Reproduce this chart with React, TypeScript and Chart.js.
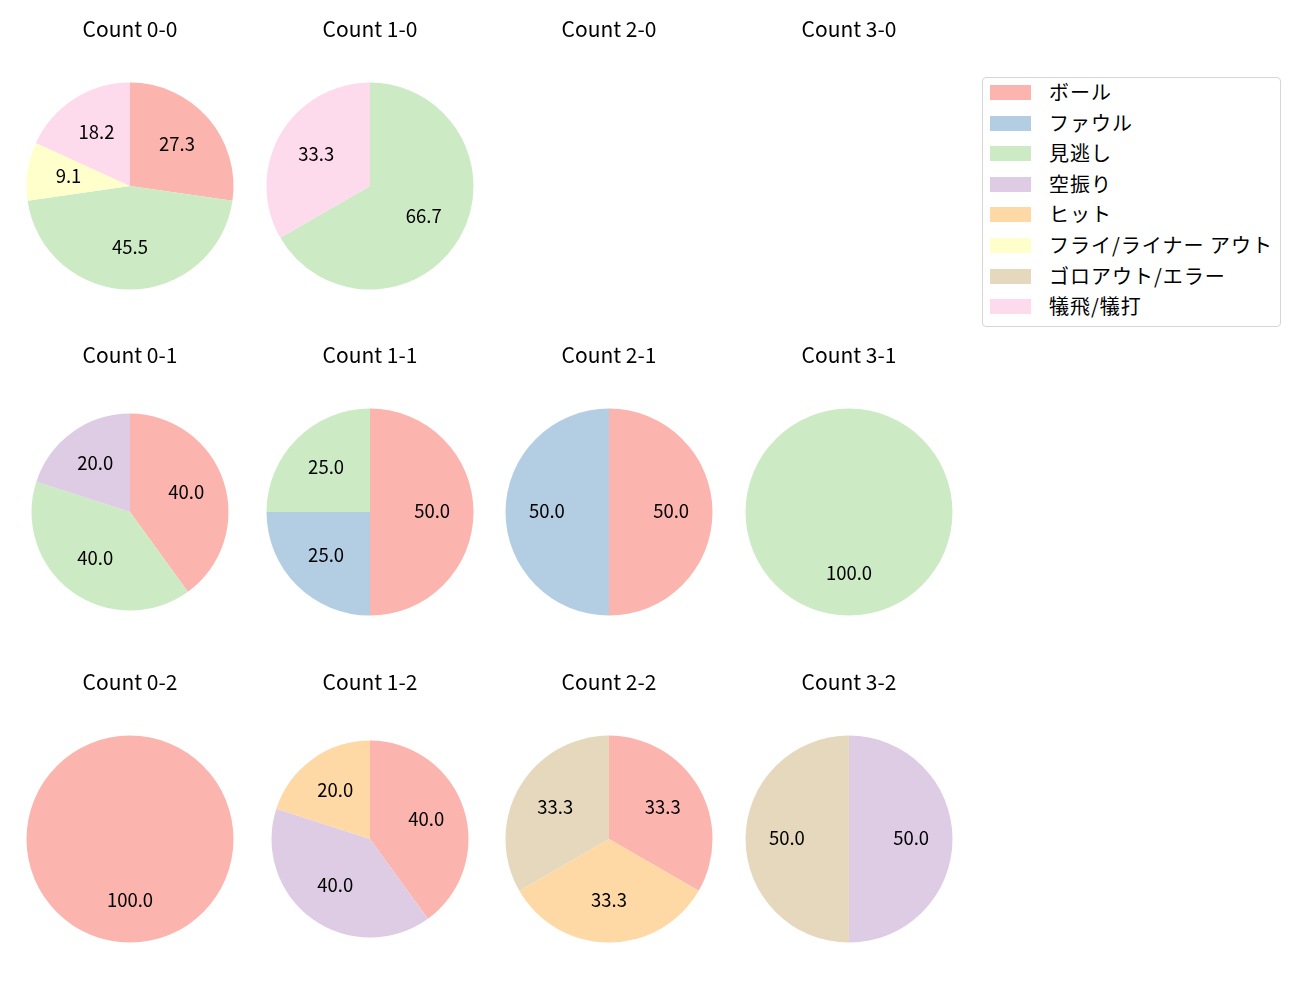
import React, { useEffect, useRef } from "react";
import { Chart, registerables } from "chart.js";

Chart.register(...registerables);

const FONT = "'Noto Sans CJK JP', 'Noto Sans', sans-serif";

const categories = [
  "ボール",
  "ファウル",
  "見逃し",
  "空振り",
  "ヒット",
  "フライ/ライナー アウト",
  "ゴロアウト/エラー",
  "犠飛/犠打",
];
const colors = ["#fbb4ae", "#b3cde3", "#ccebc5", "#decbe4", "#fed9a6", "#ffffcc", "#e5d8bd", "#fddaec"];

// counts per category (same order as categories)
const count00 = [3, 0, 5, 0, 0, 1, 0, 2];
const count10 = [0, 0, 2, 0, 0, 0, 0, 1];
const count20 = [0, 0, 0, 0, 0, 0, 0, 0];
const count30 = [0, 0, 0, 0, 0, 0, 0, 0];
const count01 = [2, 0, 2, 1, 0, 0, 0, 0];
const count11 = [2, 1, 1, 0, 0, 0, 0, 0];
const count21 = [1, 1, 0, 0, 0, 0, 0, 0];
const count31 = [0, 0, 1, 0, 0, 0, 0, 0];
const count02 = [1, 0, 0, 0, 0, 0, 0, 0];
const count12 = [2, 0, 0, 2, 1, 0, 0, 0];
const count22 = [1, 0, 0, 0, 1, 0, 1, 0];
const count32 = [0, 0, 0, 1, 0, 0, 1, 0];

const panelTitles = [
  ["Count 0-0", "Count 1-0", "Count 2-0", "Count 3-0"],
  ["Count 0-1", "Count 1-1", "Count 2-1", "Count 3-1"],
  ["Count 0-2", "Count 1-2", "Count 2-2", "Count 3-2"],
];
const panelData = [
  [count00, count10, count20, count30],
  [count01, count11, count21, count31],
  [count02, count12, count22, count32],
];
const panelRadius = [
  [103.5, 103.5, 103.5, 103.5],
  [98.5, 103.5, 103.5, 103.5],
  [103.5, 98.5, 103.5, 103.5],
];

const colCenters = [129.5, 369.5, 609, 848.5];
const rowTops = [6, 332, 659];
const CW = 240;
const CH = 325;

const pctLabels = {
  id: "pctLabels",
  afterDatasetsDraw(chart: any) {
    const data = chart.data.datasets[0].data as number[];
    const total = data.reduce((a, b) => a + b, 0);
    if (!total) return;
    const meta = chart.getDatasetMeta(0);
    const ctx = chart.ctx;
    ctx.save();
    ctx.font = `18.5px ${FONT}`;
    ctx.fillStyle = "#000";
    ctx.textAlign = "center";
    ctx.textBaseline = "middle";
    meta.data.forEach((arc: any, i: number) => {
      if (!data[i]) return;
      const p = arc.getProps(["x", "y", "startAngle", "endAngle", "outerRadius"], true);
      const mid = (p.startAngle + p.endAngle) / 2;
      const r = p.outerRadius * 0.6;
      ctx.fillText(((data[i] / total) * 100).toFixed(1), p.x + Math.cos(mid) * r, p.y + Math.sin(mid) * r - 1.5);
    });
    ctx.restore();
  },
};

function PiePanel({ title, values, radius, left, top }: any) {
  const ref = useRef<HTMLCanvasElement>(null);
  useEffect(() => {
    const chart = new Chart(ref.current!, {
      type: "pie",
      data: {
        labels: categories,
        datasets: [
          {
            data: values,
            backgroundColor: colors,
            borderWidth: 0,
            radius: radius,
          } as any,
        ],
      },
      options: {
        responsive: false,
        animation: false,
        events: [],
        layout: { padding: 0 },
        plugins: {
          legend: { display: false },
          tooltip: { enabled: false },
          title: {
            display: true,
            text: title,
            color: "#000",
            font: { family: FONT, size: 21, weight: "normal" as any },
            padding: { top: 10, bottom: 0 },
          },
        },
      },
      plugins: [pctLabels],
    });
    return () => chart.destroy();
  }, []);
  return (
    <canvas
      ref={ref}
      width={CW}
      height={CH}
      style={{ position: "absolute", left, top, width: CW, height: CH }}
    />
  );
}

function Legend() {
  return (
    <div
      style={{
        position: "absolute",
        left: 982,
        top: 77,
        width: 299,
        height: 250,
        boxSizing: "border-box",
        border: "1px solid #d6d6d6",
        borderRadius: 4,
        background: "#fff",
        fontFamily: FONT,
        fontSize: 20,
        letterSpacing: "1px",
        color: "#000",
      }}
    >
      {categories.map((c, i) => (
        <div key={c} style={{ position: "absolute", left: 0, top: 7 + i * 30.6, height: 15, width: 297 }}>
          <div
            style={{ position: "absolute", left: 7, top: 0, width: 41, height: 15, background: colors[i] }}
          />
          <div
            style={{
              position: "absolute",
              left: 66,
              top: -8,
              lineHeight: "29px",
              whiteSpace: "pre",
            }}
          >
            {c}
          </div>
        </div>
      ))}
    </div>
  );
}

export default function App() {
  return (
    <div style={{ position: "absolute", left: 0, top: 0, width: 1300, height: 1000, background: "#fff" }}>
      {panelTitles.map((row, r) =>
        row.map((t, c) => (
          <PiePanel
            key={t}
            title={t}
            values={panelData[r][c]}
            radius={panelRadius[r][c]}
            left={colCenters[c] - CW / 2}
            top={rowTops[r]}
          />
        ))
      )}
      <Legend />
    </div>
  );
}
